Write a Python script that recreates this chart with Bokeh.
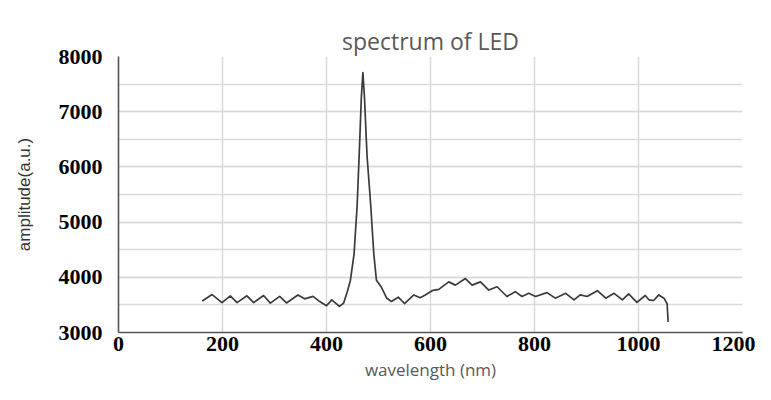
from bokeh.plotting import figure
from bokeh.models import Range1d, SingleIntervalTicker, FixedTicker, LinearAxis
from bokeh.embed import file_html
from bokeh.resources import INLINE

# Data
wavelength = [161, 180, 199, 215, 228, 247, 260, 279, 292, 310, 323, 345, 358, 374, 387,
              400, 410, 425, 433, 440, 446, 453, 459, 464, 467, 470, 473, 478, 485, 491,
              496, 505, 516, 525, 538, 550, 568, 580, 590, 603, 616, 635, 648, 667, 680,
              696, 712, 728, 747, 763, 776, 789, 802, 824, 840, 860, 876, 888, 901, 921,
              937, 953, 969, 981, 997, 1013, 1020, 1029, 1039, 1049, 1055, 1057]
amplitude = [3571, 3687, 3541, 3665, 3541, 3665, 3541, 3670, 3533, 3655, 3535, 3680, 3610, 3655, 3560,
             3485, 3592, 3474, 3533, 3740, 3947, 4421, 5309, 6494, 7263, 7707, 7263, 6197, 5309, 4421,
             3947, 3829, 3620, 3563, 3640, 3525, 3681, 3630, 3680, 3758, 3781, 3917, 3858, 3977, 3858,
             3917, 3769, 3829, 3652, 3740, 3652, 3710, 3652, 3722, 3622, 3710, 3592, 3681, 3652, 3758,
             3622, 3710, 3592, 3698, 3545, 3670, 3592, 3580, 3681, 3622, 3521, 3190]

title_text = "spectrum of LED"
x_label = "wavelength (nm)"
y_label = "amplitude(a.u.)"

p = figure(width=755, height=384, output_backend="svg", toolbar_location=None,
           x_range=Range1d(0, 1200), y_range=Range1d(3000, 8000),
           min_border_left=118, min_border_right=13, min_border_top=56, min_border_bottom=52)

xax = p.below[0]
yax = p.left[0]

p.title.text = title_text
p.title.align = "center"
p.title.text_font = "Open Sans"
p.title.text_font_size = "23px"
p.title.text_font_style = "normal"
p.title.text_color = "#595959"
p.title.standoff = 0

# invisible spacer between title and plot area (no ticks, so nothing is drawn)
spacer = LinearAxis(ticker=FixedTicker(ticks=[]), major_tick_out=20, major_tick_in=0,
                    axis_line_color=None, major_tick_line_color="white",
                    minor_tick_line_color=None, minor_tick_out=0, major_label_standoff=0,
                    major_label_text_font_size="1px", major_label_text_color="white")
p.add_layout(spacer, "above")

p.outline_line_color = None
p.background_fill_color = "white"
p.border_fill_color = "white"

xax.ticker = SingleIntervalTicker(interval=200, num_minor_ticks=0)
yax.ticker = SingleIntervalTicker(interval=1000, num_minor_ticks=2)
p.xgrid.ticker = xax.ticker
p.ygrid.ticker = yax.ticker

for ax in (xax, yax):
    ax.major_label_text_font = "Liberation Serif"
    ax.major_label_text_font_style = "bold"
    ax.major_label_text_font_size = "22px"
    ax.major_label_text_color = "black"
    ax.major_tick_line_color = None
    ax.minor_tick_line_color = None
    ax.major_tick_out = 0
    ax.major_tick_in = 0
    ax.minor_tick_out = 0
    ax.axis_line_color = "#555555"
    ax.axis_line_width = 1.6
    ax.axis_label_text_font_style = "normal"

xax.axis_label = x_label
xax.axis_label_text_font = "Open Sans"
xax.axis_label_text_font_size = "17px"
xax.axis_label_text_color = "#595959"
xax.major_label_standoff = 4
xax.axis_label_standoff = 4

yax.axis_label = y_label
yax.axis_label_text_font = "Liberation Sans"
yax.axis_label_text_font_size = "17px"
yax.axis_label_text_color = "#333333"
yax.major_label_standoff = 16
yax.axis_label_standoff = 22

p.xgrid.grid_line_color = "#d9d9d9"
p.xgrid.grid_line_width = 1.5
p.ygrid.grid_line_color = "#d9d9d9"
p.ygrid.grid_line_width = 1.5
p.ygrid.minor_grid_line_color = "#d9d9d9"
p.ygrid.minor_grid_line_width = 1.5

p.line(wavelength, amplitude, line_color="#3a3a3a", line_width=1.7, line_join="round")

open("out.html", "w").write(file_html(p, INLINE))
